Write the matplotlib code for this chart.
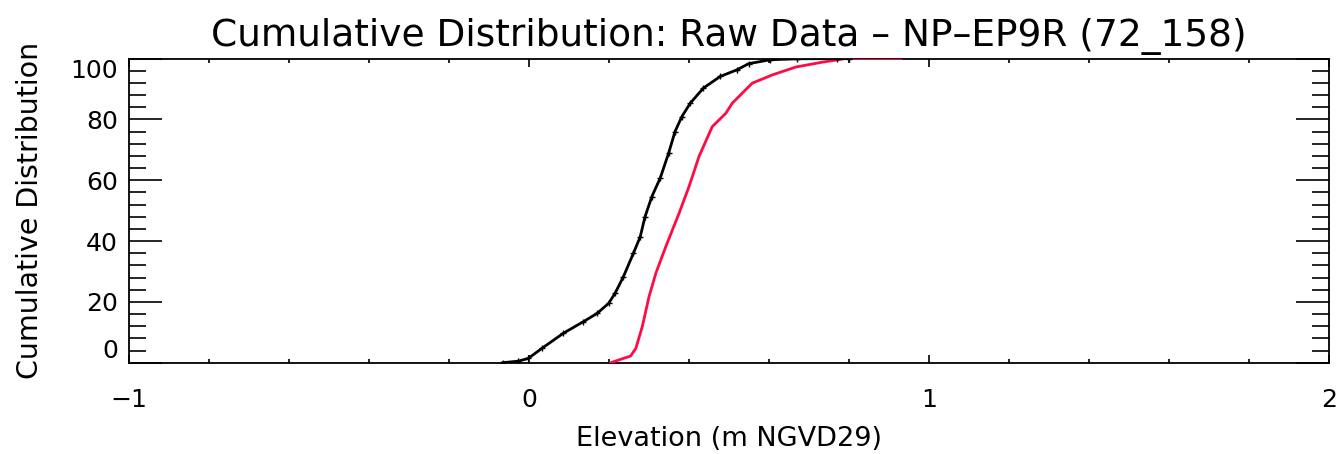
import matplotlib
matplotlib.use("Agg")
import matplotlib.pyplot as plt
from matplotlib.ticker import MultipleLocator

# values
raw_elev = [-0.066, -0.027, -0.002, 0.032, 0.086, 0.136, 0.170, 0.199, 0.215,
            0.236, 0.261, 0.278, 0.290, 0.307, 0.328, 0.349, 0.365, 0.382,
            0.403, 0.436, 0.478, 0.520, 0.549, 0.603, 0.670, 0.770, 0.800]
raw_cdf = [0.0, 0.5, 1.4, 4.7, 9.7, 13.5, 16.2, 19.5, 22.8,
           28.3, 36.0, 41.4, 48.0, 54.6, 60.7, 68.9, 76.0, 80.9,
           85.3, 90.3, 94.1, 96.3, 98.3, 99.6, 99.9, 100.0, 100.0]

ref_elev = [0.204, 0.254, 0.267, 0.283, 0.300, 0.317, 0.342, 0.375, 0.400,
            0.425, 0.458, 0.492, 0.508, 0.558, 0.608, 0.667, 0.733, 0.792, 0.930]
ref_cdf = [0.0, 2.2, 4.7, 11.8, 21.7, 29.4, 38.2, 49.1, 57.9,
           67.8, 77.6, 82.0, 85.3, 91.9, 94.6, 97.2, 98.8, 100.0, 100.0]

title = "Cumulative Distribution: Raw Data \u2013 NP\u2013EP9R (72_158)"
xlabel = "Elevation (m NGVD29)"
ylabel = "Cumulative Distribution"

plt.rcParams["font.family"] = ["DejaVu Sans"]

fig = plt.figure(figsize=(13.41, 4.54), dpi=100)
ax = fig.add_axes([0.0962, 0.2011, 0.8949, 0.6700])

ax.plot(ref_elev, ref_cdf, color="#ff0a46", lw=2.0, zorder=3)
ax.plot(raw_elev, raw_cdf, color="black", lw=2.0, marker="+", ms=4,
        mew=1.0, zorder=4)

ax.set_xlim(-1, 2)
ax.set_ylim(0, 100)
ax.xaxis.set_major_locator(MultipleLocator(1))
ax.xaxis.set_minor_locator(MultipleLocator(0.2))
ax.yaxis.set_major_locator(MultipleLocator(20))
ax.yaxis.set_minor_locator(MultipleLocator(4))

ax.tick_params(which="both", direction="in", top=True, right=True,
               labelsize=18, color="black", width=1.2)
ax.tick_params(axis="x", which="major", length=6, pad=18)
ax.tick_params(axis="x", which="minor", length=3)
ax.tick_params(axis="y", which="major", length=24, pad=8)
ax.tick_params(axis="y", which="minor", length=12)
for sp in ax.spines.values():
    sp.set_linewidth(1.3)

ax.set_xticks([-1, 0, 1, 2])
ax.set_xticklabels(["\u22121", "0", "1", "2"])
ax.set_yticks([0, 20, 40, 60, 80, 100])
ylabels = ax.set_yticklabels(["0", "20", "40", "60", "80", "100"])
ylabels[0].set_verticalalignment("bottom")
ylabels[-1].set_verticalalignment("top")

ax.set_title(title, fontsize=27, pad=9)
ax.set_xlabel(xlabel, fontsize=19.5, labelpad=10)
ax.set_ylabel(ylabel, fontsize=20.5, labelpad=19)

fig.savefig("out.png", dpi=100, facecolor="white")
